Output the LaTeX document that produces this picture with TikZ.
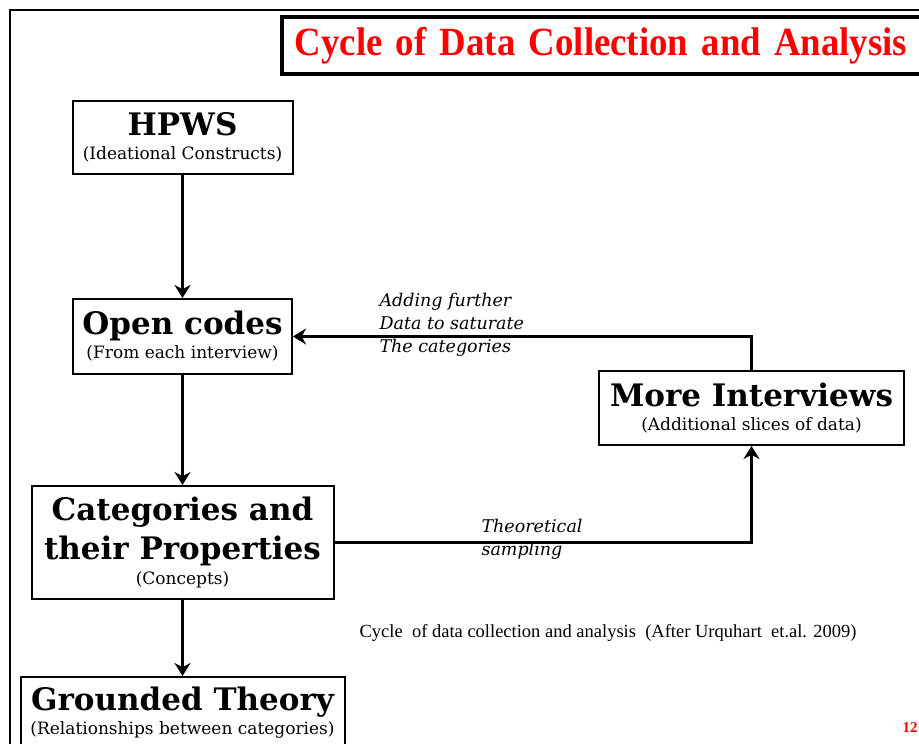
\documentclass[tikz,border=0pt]{standalone}
\usepackage{fontspec}
\setmainfont{DejaVu Serif}
\newfontfamily\titlefont[FakeStretch=0.92]{Liberation Serif}
\newfontfamily\notefont{Liberation Serif}
\usetikzlibrary{arrows.meta,positioning}

\definecolor{titlered}{RGB}{255,0,0}

\newcommand\headtxt[1]{{\bfseries\fontsize{31}{34}\selectfont #1}}
\newcommand\subtxt[1]{{\fontsize{17}{24}\selectfont #1}}

\begin{document}
\begin{tikzpicture}[x=1pt, y=1pt,
  node distance=110pt,
  box/.style={draw, line width=2pt, align=center, inner sep=0pt,
              font=\fontsize{17}{24}\selectfont},
  flow/.style={line width=3.5pt, -{Stealth[length=13pt, width=16pt]}},
  note/.style={align=left, font=\itshape\fontsize{17.5}{23}\selectfont}]
\useasboundingbox (0,0) rectangle (919,-744);
% page frame
\draw[line width=1.5pt] (10,-760) -- (10,-10) -- (935,-10);

% title
\node[box, line width=3.5pt, anchor=west, text width=634pt, inner xsep=13pt,
      minimum height=57pt, align=left, text=titlered,
      font=\titlefont\bfseries\fontsize{40}{44}\selectfont] (title) at (280,-45.5)
  {Cycle of Data Collection and Analysis};

% main chain
\node[box, minimum width=220pt, minimum height=73pt] (hpws) at (182.5,-137.5)
  {\headtxt{HPWS}\\\subtxt{(Ideational Constructs)}};
\node[box, minimum width=219pt, minimum height=75pt, below=123pt of hpws] (open)
  {\headtxt{Open codes}\\\subtxt{(From each interview)}};
\node[box, minimum width=302pt, minimum height=113pt, below=of open] (cat)
  {\headtxt{Categories and}\\[7pt]\headtxt{their Properties}\\[1pt]\subtxt{(Concepts)}};
\node[box, minimum width=324pt, minimum height=72pt, below=76pt of cat] (gt)
  {\headtxt{Grounded Theory}\\\subtxt{(Relationships between categories)}};
\node[box, minimum width=305pt, minimum height=74pt] (more) at (751.5,-408)
  {\headtxt{More Interviews}\\\subtxt{(Additional slices of data)}};

\draw[flow] (hpws) -- (open);
\draw[flow] (open) -- (cat);
\draw[flow] (cat) -- (gt);
\draw[flow] (more.north) |- (open.east);
\draw[flow] (cat.east) -| (more.south);

% labels on the loop
\node[note, anchor=north west] (addlbl) at (376,-290)
  {Adding further\\Data to saturate\\The categories};
\node[note, anchor=west] (samplbl) at (478,-539)
  {Theoretical\\sampling};

\node[font=\notefont\fontsize{18.5}{22}\selectfont] (caption) at (608,-633)
  {Cycle \ of data collection and analysis \ (After Urquhart \ et.al. 2009)};
\node[font=\notefont\bfseries\fontsize{15}{18}\selectfont, text=titlered] (pgno) at (910,-728) {12};
\end{tikzpicture}
\end{document}
